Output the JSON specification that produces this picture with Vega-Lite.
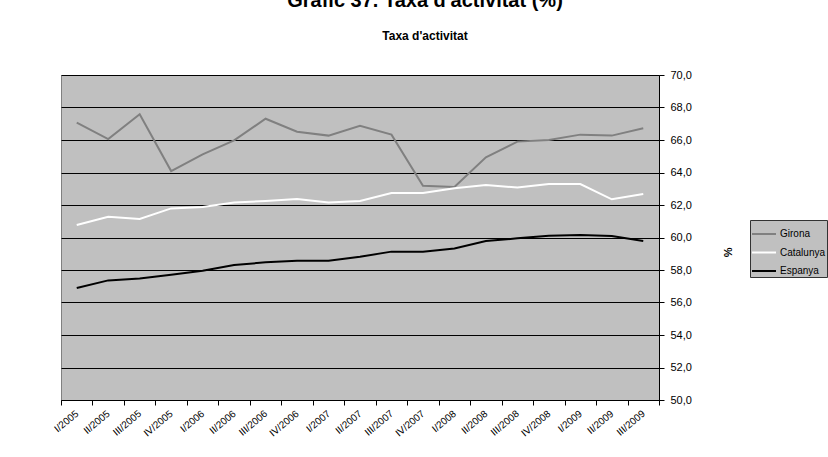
{
  "$schema": "https://vega.github.io/schema/vega-lite/v6.json",
  "width": 598,
  "height": 325,
  "autosize": {"type": "none"},
  "padding": {"left": 61, "top": 75, "right": 169, "bottom": 57},
  "background": "white",
  "title": {
    "text": "Gràfic 37. Taxa d'activitat (%)",
    "subtitle": "Taxa d'activitat",
    "anchor": "middle",
    "frame": "group",
    "dx": 65,
    "offset": 27,
    "fontSize": 20,
    "fontWeight": "bold",
    "font": "Liberation Sans",
    "color": "#000000",
    "subtitleFontSize": 12,
    "subtitleFontWeight": "bold",
    "subtitleFont": "Liberation Sans",
    "subtitleColor": "#000000",
    "subtitlePadding": 20
  },
  "config": {
    "font": "Liberation Sans",
    "locale": {"number": {"decimal": ",", "thousands": ".", "grouping": [3], "currency": ["", " €"]}},
    "view": {"fill": "#C0C0C0", "stroke": "#808080", "strokeWidth": 1}
  },
  "data": {
    "values": [
      {"q": "I/2005", "serie": "Girona", "v": 67.07},
      {"q": "II/2005", "serie": "Girona", "v": 66.06},
      {"q": "III/2005", "serie": "Girona", "v": 67.58},
      {"q": "IV/2005", "serie": "Girona", "v": 64.09},
      {"q": "I/2006", "serie": "Girona", "v": 65.12},
      {"q": "II/2006", "serie": "Girona", "v": 65.98},
      {"q": "III/2006", "serie": "Girona", "v": 67.31},
      {"q": "IV/2006", "serie": "Girona", "v": 66.51},
      {"q": "I/2007", "serie": "Girona", "v": 66.27},
      {"q": "II/2007", "serie": "Girona", "v": 66.88},
      {"q": "III/2007", "serie": "Girona", "v": 66.33},
      {"q": "IV/2007", "serie": "Girona", "v": 63.19},
      {"q": "I/2008", "serie": "Girona", "v": 63.11},
      {"q": "II/2008", "serie": "Girona", "v": 64.93},
      {"q": "III/2008", "serie": "Girona", "v": 65.9},
      {"q": "IV/2008", "serie": "Girona", "v": 66.0},
      {"q": "I/2009", "serie": "Girona", "v": 66.33},
      {"q": "II/2009", "serie": "Girona", "v": 66.27},
      {"q": "III/2009", "serie": "Girona", "v": 66.72},
      {"q": "I/2005", "serie": "Catalunya", "v": 60.77},
      {"q": "II/2005", "serie": "Catalunya", "v": 61.28},
      {"q": "III/2005", "serie": "Catalunya", "v": 61.14},
      {"q": "IV/2005", "serie": "Catalunya", "v": 61.79},
      {"q": "I/2006", "serie": "Catalunya", "v": 61.88},
      {"q": "II/2006", "serie": "Catalunya", "v": 62.15},
      {"q": "III/2006", "serie": "Catalunya", "v": 62.25},
      {"q": "IV/2006", "serie": "Catalunya", "v": 62.37},
      {"q": "I/2007", "serie": "Catalunya", "v": 62.15},
      {"q": "II/2007", "serie": "Catalunya", "v": 62.25},
      {"q": "III/2007", "serie": "Catalunya", "v": 62.74},
      {"q": "IV/2007", "serie": "Catalunya", "v": 62.74},
      {"q": "I/2008", "serie": "Catalunya", "v": 63.03},
      {"q": "II/2008", "serie": "Catalunya", "v": 63.23},
      {"q": "III/2008", "serie": "Catalunya", "v": 63.07},
      {"q": "IV/2008", "serie": "Catalunya", "v": 63.29},
      {"q": "I/2009", "serie": "Catalunya", "v": 63.29},
      {"q": "II/2009", "serie": "Catalunya", "v": 62.35},
      {"q": "III/2009", "serie": "Catalunya", "v": 62.68},
      {"q": "I/2005", "serie": "Espanya", "v": 56.89},
      {"q": "II/2005", "serie": "Espanya", "v": 57.36},
      {"q": "III/2005", "serie": "Espanya", "v": 57.47},
      {"q": "IV/2005", "serie": "Espanya", "v": 57.71},
      {"q": "I/2006", "serie": "Espanya", "v": 57.96},
      {"q": "II/2006", "serie": "Espanya", "v": 58.31},
      {"q": "III/2006", "serie": "Espanya", "v": 58.47},
      {"q": "IV/2006", "serie": "Espanya", "v": 58.57},
      {"q": "I/2007", "serie": "Espanya", "v": 58.57},
      {"q": "II/2007", "serie": "Espanya", "v": 58.82},
      {"q": "III/2007", "serie": "Espanya", "v": 59.13},
      {"q": "IV/2007", "serie": "Espanya", "v": 59.13},
      {"q": "I/2008", "serie": "Espanya", "v": 59.33},
      {"q": "II/2008", "serie": "Espanya", "v": 59.78},
      {"q": "III/2008", "serie": "Espanya", "v": 59.95},
      {"q": "IV/2008", "serie": "Espanya", "v": 60.11},
      {"q": "I/2009", "serie": "Espanya", "v": 60.15},
      {"q": "II/2009", "serie": "Espanya", "v": 60.09},
      {"q": "III/2009", "serie": "Espanya", "v": 59.78}
    ]
  },
  "mark": {"type": "line", "strokeWidth": 2},
  "encoding": {
    "x": {
      "field": "q",
      "type": "ordinal",
      "sort": null,
      "scale": {"type": "band", "paddingInner": 0, "paddingOuter": 0},
      "axis": {
        "title": null,
        "tickBand": "extent",
        "domainColor": "#000000",
        "tickColor": "#000000",
        "tickSize": 5,
        "labelAngle": -40,
        "labelAlign": "right",
        "labelBaseline": "middle",
        "labelFontSize": 10,
        "labelColor": "#000000",
        "labelPadding": 7,
        "grid": false
      }
    },
    "y": {
      "field": "v",
      "type": "quantitative",
      "scale": {"domain": [50, 70], "nice": false, "zero": false},
      "axis": {
        "orient": "right",
        "title": "%",
        "titleFontSize": 11,
        "titleFontWeight": "bold",
        "titleColor": "#000000",
        "titlePadding": 30,
        "titleY": 177,
        "values": [50, 52, 54, 56, 58, 60, 62, 64, 66, 68, 70],
        "format": ".1f",
        "labelFontSize": 11,
        "labelColor": "#000000",
        "labelPadding": 6,
        "domainColor": "#000000",
        "tickColor": "#000000",
        "tickSize": 5,
        "grid": true,
        "gridColor": "#000000",
        "gridOpacity": 1,
        "gridWidth": 1
      }
    },
    "color": {
      "field": "serie",
      "type": "nominal",
      "scale": {"domain": ["Girona", "Catalunya", "Espanya"], "range": ["#808080", "#FFFFFF", "#000000"]},
      "legend": {
        "title": null,
        "orient": "none",
        "legendX": 689,
        "legendY": 145,
        "symbolType": "stroke",
        "symbolSize": 576,
        "symbolStrokeWidth": 2,
        "labelFontSize": 10,
        "labelColor": "#000000",
        "labelOffset": 3,
        "rowPadding": 0.5,
        "padding": 1,
        "strokeColor": "#333333",
        "fillColor": "#C0C0C0"
      }
    }
  }
}
